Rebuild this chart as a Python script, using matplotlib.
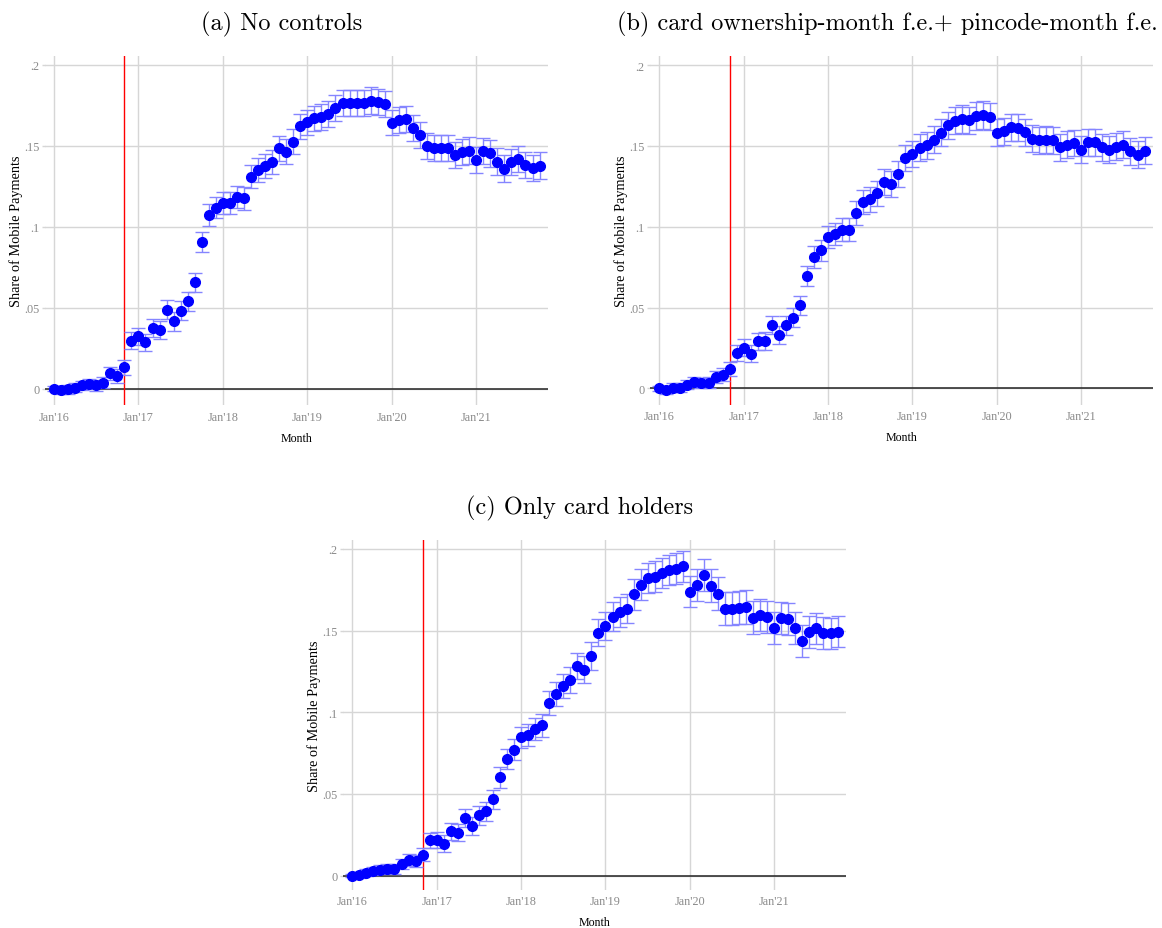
import numpy as np
import matplotlib
matplotlib.use("Agg")
import matplotlib.pyplot as plt

# --- data, monthly Jan'16 .. Oct'21 ---
tick_labels = ["Jan'16", "Jan'17", "Jan'18", "Jan'19", "Jan'20", "Jan'21"]
ytick_vals = [0, 0.05, 0.1, 0.15, 0.2]
ytick_labels = ["0", ".05", ".1", ".15", ".2"]
demonetization = 10   # Nov 2016

titles = ["(a) No controls",
          "(b) card ownership-month f.e.+ pincode-month f.e.",
          "(c) Only card holders"]

a_est = [0.0, -0.001, -0.0005, 0.0005, 0.002, 0.003, 0.002, 0.0037, 0.0095, 0.008,
         0.0132, 0.0297, 0.0323, 0.0286, 0.0375, 0.0363, 0.0488, 0.0416, 0.0482, 0.054,
         0.0657, 0.0906, 0.1073, 0.1118, 0.1145, 0.1149, 0.1184, 0.1176, 0.131, 0.1349,
         0.1374, 0.1399, 0.1485, 0.1464, 0.1526, 0.162, 0.1646, 0.167, 0.1679, 0.1697,
         0.1734, 0.1765, 0.1765, 0.1763, 0.1765, 0.178, 0.1771, 0.1759, 0.1644, 0.166,
         0.1666, 0.1611, 0.1565, 0.1497, 0.1489, 0.1489, 0.1489, 0.1444, 0.1462, 0.1471,
         0.1415, 0.1467, 0.1454, 0.1403, 0.1359, 0.1399, 0.1419, 0.138, 0.1364, 0.1378]
a_ci = [0.0015, 0.0025, 0.0025, 0.0028, 0.003, 0.0032, 0.0033, 0.0035, 0.004, 0.0042,
        0.0047, 0.0052, 0.0053, 0.0053, 0.0055, 0.0055, 0.0057, 0.0057, 0.0058, 0.006,
        0.006, 0.0064, 0.0066, 0.0066, 0.0068, 0.0068, 0.007, 0.007, 0.0072, 0.0073,
        0.0074, 0.0075, 0.0077, 0.0077, 0.0076, 0.0078, 0.0078, 0.0079, 0.0079, 0.0079,
        0.008, 0.008, 0.008, 0.008, 0.0081, 0.0081, 0.0081, 0.0081, 0.008, 0.008,
        0.008, 0.008, 0.008, 0.008, 0.008, 0.0081, 0.0081, 0.0081, 0.0081, 0.0081,
        0.0081, 0.0082, 0.0082, 0.0082, 0.0082, 0.0082, 0.0082, 0.0081, 0.0081, 0.0081]

b_est = [0.0, -0.001, 0.0004, 0.0004, 0.0023, 0.0037, 0.0033, 0.0035, 0.0072, 0.0085,
         0.0118, 0.0221, 0.0252, 0.0214, 0.0291, 0.0295, 0.0392, 0.0332, 0.039, 0.0437,
         0.0513, 0.0695, 0.0812, 0.0854, 0.0934, 0.0953, 0.0981, 0.0981, 0.1087, 0.1153,
         0.1171, 0.1206, 0.1278, 0.1266, 0.1326, 0.1427, 0.145, 0.1489, 0.1505, 0.154,
         0.1581, 0.1629, 0.1656, 0.1668, 0.1658, 0.1687, 0.1691, 0.1682, 0.1581, 0.1592,
         0.1616, 0.1614, 0.1586, 0.1544, 0.1536, 0.1538, 0.1534, 0.1493, 0.1509, 0.1518,
         0.1478, 0.1524, 0.1522, 0.1493, 0.1476, 0.1495, 0.1507, 0.1468, 0.1447, 0.147]
b_ci = [0.0015, 0.0025, 0.0027, 0.0028, 0.003, 0.0032, 0.0033, 0.0034, 0.0038, 0.004,
        0.0045, 0.005, 0.0052, 0.0052, 0.0054, 0.0055, 0.0056, 0.0056, 0.0058, 0.006,
        0.006, 0.0064, 0.0066, 0.0067, 0.0068, 0.0069, 0.0072, 0.0072, 0.0074, 0.0076,
        0.0077, 0.0078, 0.0081, 0.0081, 0.0082, 0.0082, 0.0082, 0.0083, 0.0083, 0.0083,
        0.0084, 0.0084, 0.0084, 0.0085, 0.0085, 0.0085, 0.0085, 0.0085, 0.0084, 0.0084,
        0.0084, 0.0084, 0.0084, 0.0084, 0.0083, 0.0083, 0.0083, 0.0083, 0.0083, 0.0083,
        0.0083, 0.0083, 0.0083, 0.0083, 0.0083, 0.0083, 0.0083, 0.0083, 0.0083, 0.0083]

c_est = [0.0, 0.0004, 0.0018, 0.0027, 0.0037, 0.0043, 0.0043, 0.0071, 0.0096, 0.009,
         0.0127, 0.0216, 0.022, 0.0196, 0.0271, 0.0263, 0.0351, 0.0302, 0.0369, 0.0394,
         0.0467, 0.0602, 0.0714, 0.0771, 0.0847, 0.0861, 0.0898, 0.092, 0.1057, 0.111,
         0.1161, 0.1198, 0.1284, 0.1261, 0.1345, 0.1488, 0.1527, 0.1586, 0.1614, 0.1635,
         0.1722, 0.1782, 0.1822, 0.1831, 0.1853, 0.1871, 0.188, 0.1894, 0.1737, 0.178,
         0.1839, 0.1776, 0.1727, 0.1635, 0.1635, 0.1641, 0.1645, 0.158, 0.1596, 0.1584,
         0.1518, 0.1578, 0.1571, 0.1518, 0.1435, 0.1492, 0.1514, 0.1486, 0.1484, 0.1494]
c_ci = [0.001, 0.0018, 0.0022, 0.0025, 0.0027, 0.0028, 0.003, 0.0032, 0.0035, 0.0037,
        0.004, 0.0048, 0.005, 0.005, 0.0052, 0.0053, 0.0055, 0.0055, 0.0057, 0.0058,
        0.006, 0.0063, 0.0064, 0.0065, 0.0066, 0.0067, 0.0068, 0.0069, 0.0071, 0.0073,
        0.0075, 0.0077, 0.008, 0.0081, 0.0083, 0.0085, 0.0087, 0.0088, 0.009, 0.0091,
        0.0093, 0.0093, 0.0094, 0.0094, 0.0094, 0.0094, 0.0094, 0.0094, 0.0095, 0.0096,
        0.0097, 0.0099, 0.0101, 0.0101, 0.0102, 0.0102, 0.0102, 0.0101, 0.01, 0.01,
        0.0099, 0.0099, 0.0098, 0.0098, 0.0097, 0.0097, 0.0096, 0.0096, 0.0095, 0.0095]

SERIF = "Liberation Serif"
TICK_GRAY = "#8a8a8a"
GRID_GRAY = "#d6d6d6"


def draw_panel(ax, est, ci, ylim):
    x = np.arange(len(est))
    ax.set_facecolor("white")
    for s in ax.spines.values():
        s.set_visible(False)

    # grid (Stata-like: horizontal + vertical at the ticks)
    ax.grid(True, color=GRID_GRAY, lw=1.0, zorder=0)
    ax.set_axisbelow(True)

    ax.axhline(0, color="#222222", lw=1.1, zorder=1)
    ax.axvline(demonetization, color="red", lw=1.0, zorder=1)

    ax.errorbar(x, est, yerr=ci, fmt="none", ecolor="#8585ff", elinewidth=1.0,
                capsize=5, capthick=1.0, zorder=2)
    ax.plot(x, est, "o", color="#0000ff", ms=7, mec="#0000ff", zorder=3)

    ax.set_xlim(-1.28, 70.2)
    ax.set_ylim(*ylim)
    ax.set_xticks(np.arange(len(tick_labels)) * 12)
    ax.set_xticklabels(tick_labels, family=SERIF, fontsize=8.8, color=TICK_GRAY)
    ax.set_yticks(ytick_vals)
    ax.set_yticklabels(ytick_labels, family=SERIF, fontsize=8.8, color=TICK_GRAY)
    ax.tick_params(axis="x", length=0, pad=4)
    ax.tick_params(axis="y", length=2.5, width=1.0, color=GRID_GRAY, pad=1.5)

    ax.set_xlabel("Month", family=SERIF, fontsize=8.6, labelpad=6.5)
    ax.set_ylabel("Share of Mobile Payments", family=SERIF, fontsize=10.3, labelpad=1)


fig = plt.figure(figsize=(11.62, 9.29), dpi=100)
W, H = 1162.0, 929.0

# axes boxes in pixels: left, top, right, bottom
boxes = [(45, 56.7, 548, 406), (650.3, 57, 1153, 405.6), (343.3, 541, 846, 890.7)]
ylims = [(-0.0101, 0.2057), (-0.0101, 0.2057), (-0.0086, 0.2055)]
series = [(a_est, a_ci), (b_est, b_ci), (c_est, c_ci)]
title_pos = [(282, 24), (887, 24), (580, 508)]

for (l, t, r, b), yl, (est, ci), ttl, (tx, ty) in zip(boxes, ylims, series, titles, title_pos):
    ax = fig.add_axes([l / W, 1 - b / H, (r - l) / W, (b - t) / H])
    draw_panel(ax, est, ci, yl)
    fig.text(tx / W, 1 - ty / H, ttl, family="cmr10", fontsize=17.5,
             ha="center", va="center")

fig.savefig("out.png", dpi=100, facecolor="white")
